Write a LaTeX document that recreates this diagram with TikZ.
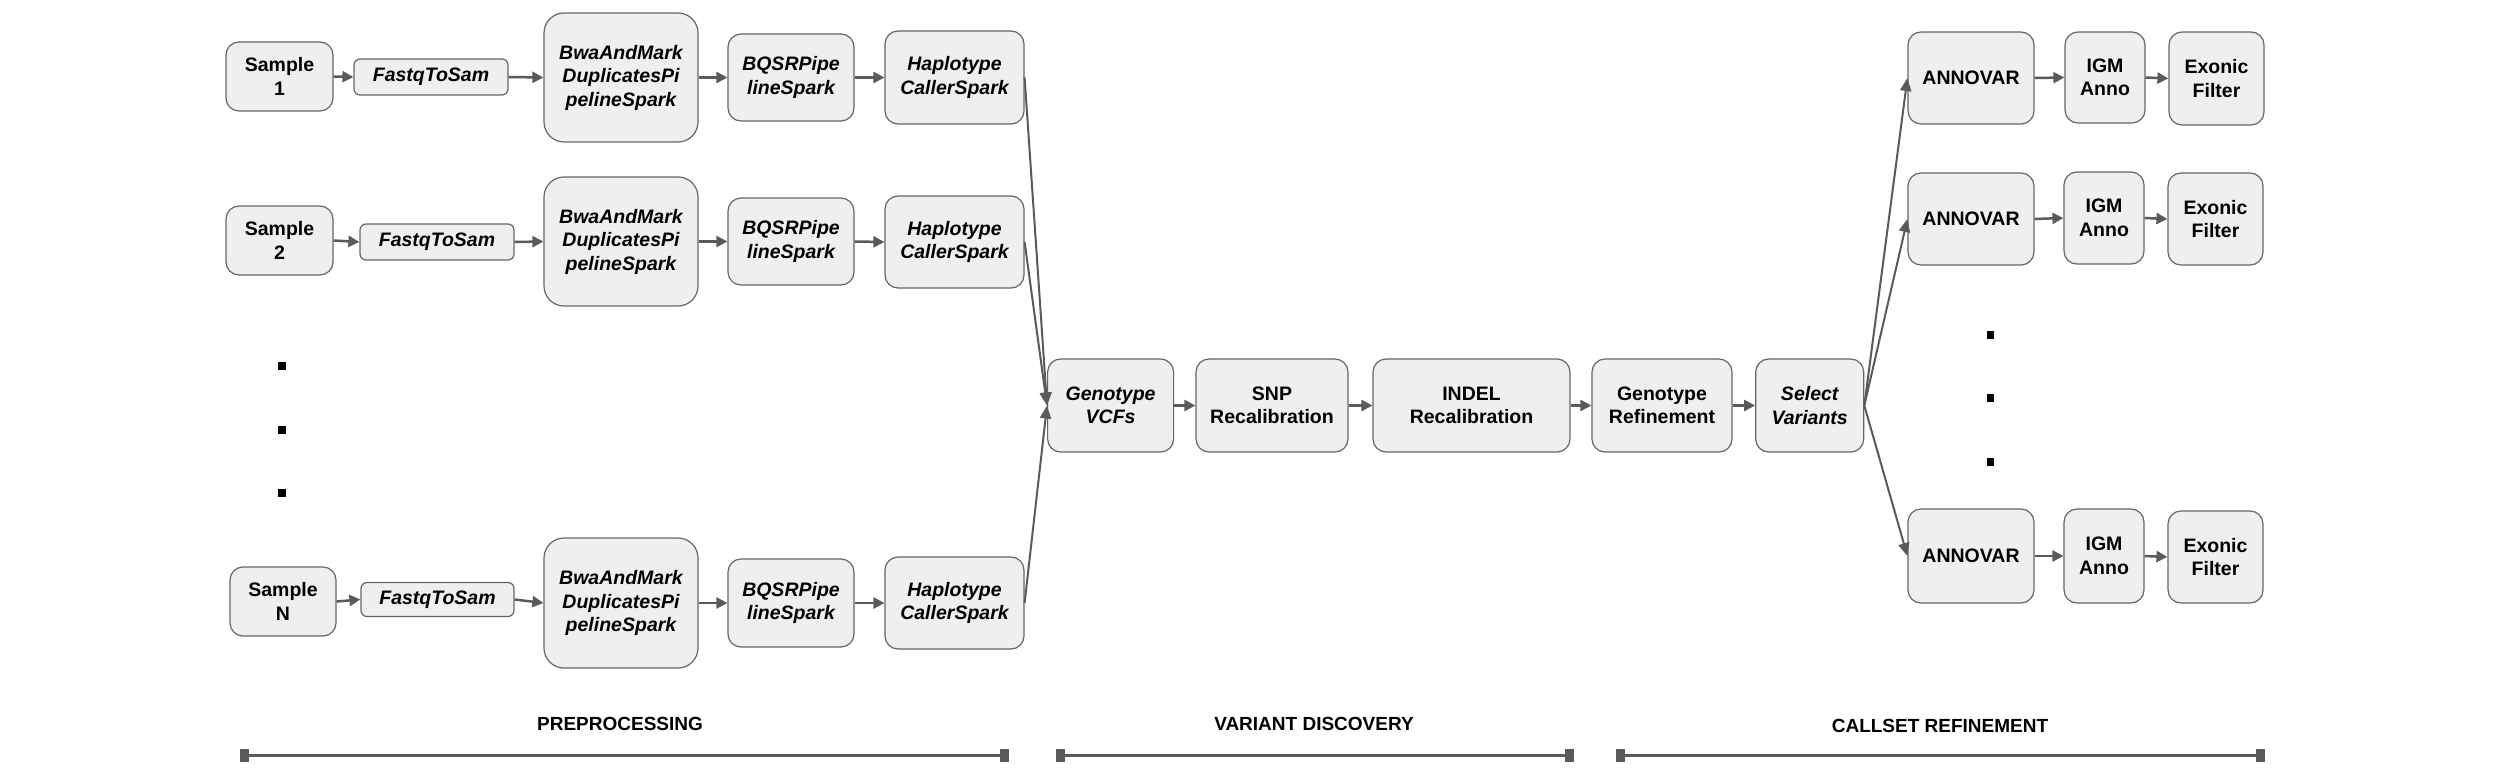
\documentclass[tikz,border=0pt]{standalone}
\usepackage{fontspec}
\setmainfont{Liberation Sans}
\usetikzlibrary{arrows.meta}
\definecolor{boxfill}{HTML}{EFEFEF}
\definecolor{boxline}{HTML}{666666}
\definecolor{arrcol}{HTML}{5A5A5A}
\tikzset{
  box/.style={draw=boxline, fill=boxfill, line width=1.2pt, rounded corners=13pt, align=center, inner sep=0pt,
    font=\fontsize{19.5}{23.5}\selectfont\bfseries},
  ibox/.style={box, font=\fontsize{19.5}{23.5}\selectfont\bfseries\itshape},
  sz/.style 2 args={minimum width=#1pt, minimum height=#2pt},
  arr/.style={draw=arrcol, line width=2.5pt, -{Triangle[length=11pt,width=11pt]}},
  longarr/.style={draw=arrcol, line width=2pt, -{Triangle[length=13pt,width=11pt]}},
  dotmark/.style={fill=black, minimum size=7.5pt, inner sep=0pt},
  phase/.style={font=\fontsize{19}{22}\selectfont\bfseries, inner sep=0pt},
  span/.style={draw=arrcol, line width=3pt, {Rectangle[length=9pt,width=13pt]}-{Rectangle[length=9pt,width=13pt]}},
}
\begin{document}
\begin{tikzpicture}[x=1pt,y=-1pt]
\useasboundingbox (0,0) rectangle (2500,781);

% Row 1
\node[box,sz={107}{69}] (s1) at (279.5,76.5) {Sample\\1};
\node[ibox,sz={154}{36},rounded corners=6pt] (f1) at (431,77) {FastqToSam};
\node[ibox,sz={154}{129},rounded corners=20pt] (b1) at (621,77.5) {BwaAndMark\\DuplicatesPi\\pelineSpark};
\node[ibox,sz={126}{87}] (q1) at (791,77.5) {BQSRPipe\\lineSpark};
\node[ibox,sz={139}{93}] (h1) at (954.5,77.5) {Haplotype\\CallerSpark};

% Row 2
\node[box,sz={107}{69}] (s2) at (279.5,240.5) {Sample\\2};
\node[ibox,sz={154}{36},rounded corners=6pt] (f2) at (437,242) {FastqToSam};
\node[ibox,sz={154}{129},rounded corners=20pt] (b2) at (621,241.5) {BwaAndMark\\DuplicatesPi\\pelineSpark};
\node[ibox,sz={126}{87}] (q2) at (791,241.5) {BQSRPipe\\lineSpark};
\node[ibox,sz={139}{92}] (h2) at (954.5,242) {Haplotype\\CallerSpark};

% Row N
\node[box,sz={106}{69}] (sN) at (283,601.5) {Sample\\N};
\node[ibox,sz={153}{34},rounded corners=6pt] (fN) at (437.5,599.5) {FastqToSam};
\node[ibox,sz={154}{130},rounded corners=20pt] (bN) at (621,603) {BwaAndMark\\DuplicatesPi\\pelineSpark};
\node[ibox,sz={126}{88}] (qN) at (791,603) {BQSRPipe\\lineSpark};
\node[ibox,sz={139}{92}] (hN) at (954.5,603) {Haplotype\\CallerSpark};

% left dots
\node[dotmark] (ld1) at (282,366) {};
\node[dotmark] (ld2) at (282,430) {};
\node[dotmark] (ld3) at (282,493) {};

% Middle
\node[ibox,sz={126}{93}] (gv) at (1110.6,405.5) {Genotype\\VCFs};
\node[box,sz={152}{93}] (snp) at (1272,405.5) {SNP\\Recalibration};
\node[box,sz={197}{93}] (indel) at (1471.5,405.5) {INDEL\\Recalibration};
\node[box,sz={140}{93}] (gref) at (1662,405.5) {Genotype\\Refinement};
\node[ibox,sz={108}{93}] (sel) at (1809.7,405.5) {Select\\Variants};

% Right
\node[box,sz={126}{92}] (a1) at (1971,78) {ANNOVAR};
\node[box,sz={80}{91}] (i1) at (2105,77.5) {IGM\\Anno};
\node[box,sz={95}{93}] (e1) at (2216.5,78.5) {Exonic\\Filter};
\node[box,sz={126}{92}] (a2) at (1971,219) {ANNOVAR};
\node[box,sz={80}{92}] (i2) at (2104,218) {IGM\\Anno};
\node[box,sz={95}{92}] (e2) at (2215.5,219) {Exonic\\Filter};
\node[box,sz={126}{94}] (a3) at (1971,556) {ANNOVAR};
\node[box,sz={80}{94}] (i3) at (2104,556) {IGM\\Anno};
\node[box,sz={95}{92}] (e3) at (2215.5,557) {Exonic\\Filter};

% right dots
\node[dotmark] (rd1) at (1990.5,335) {};
\node[dotmark] (rd2) at (1990.5,398) {};
\node[dotmark] (rd3) at (1990.5,462) {};

% row arrows
\foreach \r in {1,2,N}{
  \draw[arr] (s\r.east) -- (f\r.west);
  \draw[arr] (f\r.east) -- (b\r.west);
  \draw[arr] (b\r.east) -- (q\r.west);
  \draw[arr] (q\r.east) -- (h\r.west);
}
\draw[longarr] (h1.east) -- (gv.west);
\draw[longarr] (h2.east) -- (gv.west);
\draw[longarr] (hN.east) -- (gv.west);

\draw[arr] (gv) -- (snp);
\draw[arr] (snp) -- (indel);
\draw[arr] (indel) -- (gref);
\draw[arr] (gref) -- (sel);

\draw[longarr] (sel.east) -- (a1.west);
\draw[longarr] (sel.east) -- (a2.west);
\draw[longarr] (sel.east) -- (a3.west);

\foreach \r in {1,2,3}{
  \draw[arr] (a\r.east) -- (i\r.west);
  \draw[arr] (i\r.east) -- (e\r.west);
}

% phases
\node[phase] (pre) at (620,724) {PREPROCESSING};
\node[phase] (vd) at (1314,724) {VARIANT DISCOVERY};
\node[phase] (cr) at (1940,726) {CALLSET REFINEMENT};
\coordinate (pre1) at (240,755);
\coordinate (pre2) at (1009,755);
\coordinate (vd1) at (1056,755);
\coordinate (vd2) at (1574,755);
\coordinate (cr1) at (1616,755);
\coordinate (cr2) at (2265,755);
\draw[span] (pre1) -- (pre2);
\draw[span] (vd1) -- (vd2);
\draw[span] (cr1) -- (cr2);
\end{tikzpicture}
\end{document}
